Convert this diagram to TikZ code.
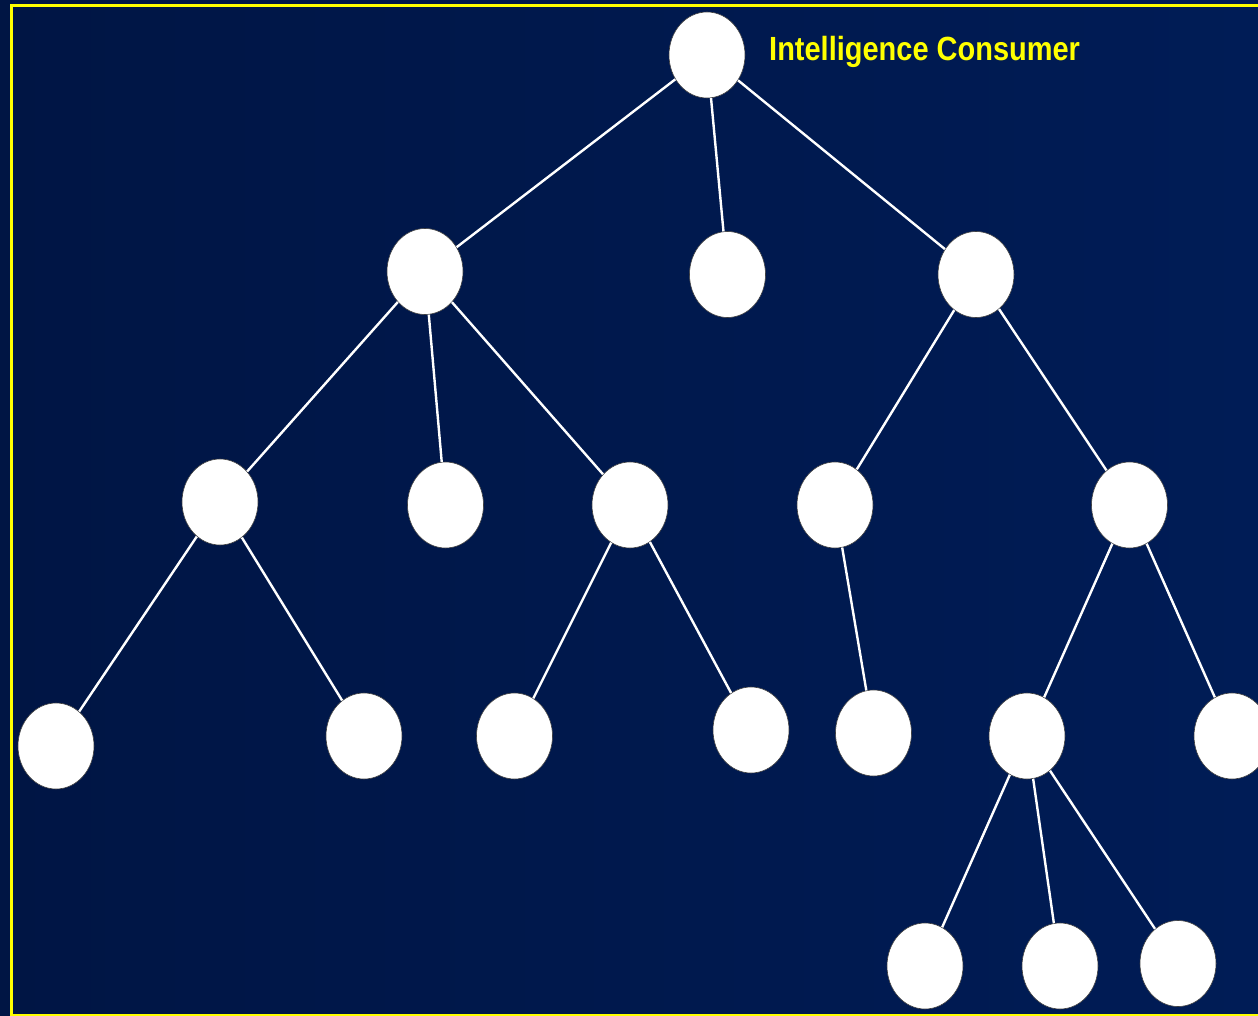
\documentclass[tikz,border=0pt]{standalone}
\usepackage{fontspec}
\usetikzlibrary{shapes.geometric}
\newfontfamily\labelfont{Liberation Sans}[FakeStretch=0.865]
\definecolor{bgleft}{RGB}{0,21,68}
\definecolor{bgright}{RGB}{0,28,86}
\definecolor{frameyellow}{RGB}{255,255,0}
\tikzset{
  treenode/.style={ellipse, fill=white, draw=black!75, line width=0.6pt,
    minimum width=76pt, minimum height=86pt, inner sep=0pt},
  edge/.style={draw=white, line width=2.4pt},
}
\begin{document}
\begin{tikzpicture}[x=1pt,y=-1pt]
\useasboundingbox (0,0) rectangle (1258,1016);
\shade[left color=bgleft, right color=bgright] (0,0) rectangle (1258,1016);
\begin{scope}
\clip (0,0) rectangle (1258,1016);
\draw[frameyellow, line width=2.5pt] (11.3,5.3) rectangle (1300,1015.5);
\end{scope}
% nodes
\node[treenode] (root) at (707,55) {};
\node[treenode] (a) at (425,271.5) {};
\node[treenode] (b) at (727.5,274.5) {};
\node[treenode] (c) at (976,274.5) {};
\node[treenode] (d) at (220,502) {};
\node[treenode] (e) at (445.5,505) {};
\node[treenode] (f) at (630,505) {};
\node[treenode] (g) at (835,505) {};
\node[treenode] (h) at (1129.5,505) {};
\node[treenode] (i) at (56,746) {};
\node[treenode] (j) at (364,736) {};
\node[treenode] (k) at (514.5,736) {};
\node[treenode] (l) at (751,730) {};
\node[treenode] (m) at (873.5,733) {};
\node[treenode] (n) at (1027,736) {};
\node[treenode] (o) at (1232,736) {};
\node[treenode] (p) at (925,966) {};
\node[treenode] (q) at (1060,966) {};
\node[treenode] (r) at (1178,963.5) {};
% edges
\foreach \u/\v in {root/a,root/b,root/c,a/d,a/e,a/f,c/g,c/h,d/i,d/j,f/k,f/l,g/m,h/n,h/o,n/p,n/q,n/r}
  \path[edge] (\u) -- (\v);
% label
\node[anchor=base west, inner sep=0pt, text=frameyellow, font=\labelfont\bfseries\fontsize{33.5}{40}\selectfont] (title) at (769,60.7) {Intelligence Consumer};
\end{tikzpicture}
\end{document}
